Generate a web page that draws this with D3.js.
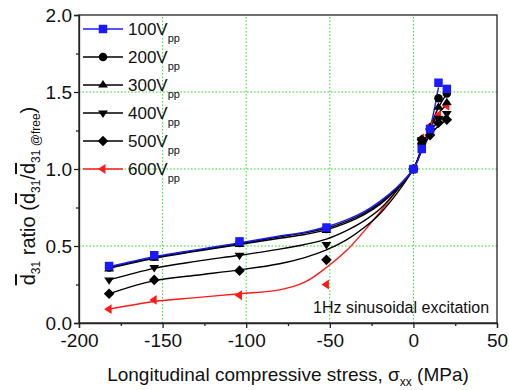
<!DOCTYPE html>
<html>
<head>
<meta charset="utf-8">
<script src="https://cdn.jsdelivr.net/npm/d3@7"></script>
<style>
  html, body { margin: 0; padding: 0; background: #fff; }
  svg { display: block; font-family: "Liberation Sans", Arial, sans-serif; }
  .grid line { stroke: #22dd22; stroke-width: 1; stroke-dasharray: 1.5, 2; }
  .axis path, .axis line { stroke: #222; stroke-width: 1.3; }
  .axis text { font-size: 19px; fill: #111; }
</style>
</head>
<body>
<div id="chart"></div>
<script>
// measured points
const stress = [-182, -155, -104, -52, 0, 5, 10, 15, 20];
const v100 = [0.37, 0.44, 0.53, 0.62, 1.0, 1.13, 1.26, 1.56, 1.52];
const v200 = [0.36, 0.43, 0.52, 0.61, 1.0, 1.16, 1.25, 1.46, 1.49];
const v300 = [0.35, 0.42, 0.51, 0.60, 1.0, 1.18, 1.27, 1.40, 1.43];
const v400 = [0.28, 0.36, 0.44, 0.51, 1.0, 1.19, 1.25, 1.33, 1.36];
const v500 = [0.19, 0.28, 0.34, 0.41, 1.0, 1.19, 1.22, 1.30, 1.32];
const v600 = [0.09, 0.15, 0.18, 0.25, 1.0, 1.20, 1.28, 1.35, 1.41];

// fitted curves
const fitX = [-182, -155, -130, -104, -80, -65, -52, -40, -30, -20, -10, 0, 5, 10, 15, 20];
const fit100 = [0.365, 0.43, 0.475, 0.52, 0.565, 0.59, 0.625, 0.67, 0.72, 0.79, 0.88, 1.0, 1.12, 1.27, 1.53, null];
const fit200 = [0.36, 0.425, 0.47, 0.515, 0.56, 0.585, 0.615, 0.66, 0.71, 0.78, 0.875, 1.0, 1.13, 1.27, 1.4, 1.49];
const fit300 = [0.355, 0.42, 0.465, 0.51, 0.55, 0.575, 0.605, 0.65, 0.70, 0.77, 0.87, 1.0, 1.13, 1.26, 1.36, 1.42];
const fit400 = [0.28, 0.355, 0.4, 0.44, 0.48, 0.51, 0.545, 0.6, 0.66, 0.74, 0.86, 1.0, 1.13, 1.24, 1.31, 1.35];
const fit500 = [0.19, 0.275, 0.31, 0.345, 0.385, 0.425, 0.475, 0.54, 0.615, 0.71, 0.84, 1.0, 1.12, 1.22, 1.28, 1.32];
const fit600 = [0.09, 0.14, 0.165, 0.19, 0.215, 0.265, 0.36, 0.47, 0.59, 0.72, 0.86, 1.0, 1.14, 1.27, 1.36, 1.42];

const seriesNames = ["100V", "200V", "300V", "400V", "500V", "600V"];
const seriesValues = [v100, v200, v300, v400, v500, v600];
const seriesFits = [fit100, fit200, fit300, fit400, fit500, fit600];
const seriesColors = ["#1a1aff", "#000", "#000", "#000", "#000", "#ff1a1a"];
const seriesMarkers = ["square", "circle", "up", "down", "diamond", "left"];

const xTicks = [-200, -150, -100, -50, 0, 50];
const yTicks = [0.0, 0.5, 1.0, 1.5, 2.0];

const width = 509, height = 390;
const margin = { left: 79, right: 12, top: 15, bottom: 67 };

const svg = d3.select("#chart").append("svg")
  .attr("width", width)
  .attr("height", height);

const x = d3.scaleLinear().domain([-200, 50]).range([margin.left, width - margin.right]);
const y = d3.scaleLinear().domain([0, 2]).range([height - margin.bottom, margin.top]);

// grid
const grid = svg.append("g").attr("class", "grid");
grid.selectAll(".gx").data([-150, -100, -50, 0]).enter().append("line")
  .attr("x1", d => x(d)).attr("x2", d => x(d))
  .attr("y1", y(0)).attr("y2", y(2));
grid.selectAll(".gy").data([0.5, 1.0, 1.5]).enter().append("line")
  .attr("x1", x(-200)).attr("x2", x(50))
  .attr("y1", d => y(d)).attr("y2", d => y(d));

// marker shapes
function markerPath(kind, s) {
  if (kind === "square") return d3.symbol(d3.symbolSquare, s * s)();
  if (kind === "circle") return d3.symbol(d3.symbolCircle, Math.PI * (s / 2) * (s / 2))();
  if (kind === "diamond") {
    const r = s * 0.62;
    return `M0,${-r}L${r},0L0,${r}L${-r},0Z`;
  }
  // triangles
  const r = s * 0.58;
  const h = r * 1.5;
  if (kind === "up") return `M0,${-r}L${r},${h - r}L${-r},${h - r}Z`;
  if (kind === "down") return `M0,${r}L${r},${r - h}L${-r},${r - h}Z`;
  return `M${-r},0L${h - r},${-r}L${h - r},${r}Z`;
}

const line = d3.line()
  .defined(d => d[1] !== null)
  .x(d => x(d[0]))
  .y(d => y(d[1]))
  .curve(d3.curveCatmullRom.alpha(0.5));

const plot = svg.append("g");

// draw from 600V back to 100V so the blue ends on top
for (let i = seriesNames.length - 1; i >= 0; i--) {
  const fitPts = fitX.map((fx, j) => [fx, seriesFits[i][j]]);
  plot.append("path")
    .datum(fitPts)
    .attr("fill", "none")
    .attr("stroke", seriesColors[i])
    .attr("stroke-width", 1.4)
    .attr("d", line);
}
for (let i = seriesNames.length - 1; i >= 0; i--) {
  const pts = stress.map((sx, j) => [sx, seriesValues[i][j]]);
  plot.selectAll(null).data(pts).enter().append("path")
    .attr("transform", d => `translate(${x(d[0])},${y(d[1])})`)
    .attr("d", markerPath(seriesMarkers[i], 8.5))
    .attr("fill", seriesColors[i]);
}

// frame
svg.append("rect")
  .attr("x", x(-200)).attr("y", y(2))
  .attr("width", x(50) - x(-200)).attr("height", y(0) - y(2))
  .attr("fill", "none").attr("stroke", "#222").attr("stroke-width", 1.3);

// axes
svg.append("g").attr("class", "axis")
  .attr("transform", `translate(0,${y(0)})`)
  .call(d3.axisBottom(x).tickValues(xTicks).tickSize(5).tickPadding(6).tickFormat(d => String(d)));
svg.append("g").attr("class", "axis")
  .attr("transform", `translate(0,${y(0)})`)
  .call(d3.axisBottom(x).tickValues([-175, -125, -75, -25, 25]).tickSize(3).tickFormat(""))
  .select(".domain").remove();

svg.append("g").attr("class", "axis")
  .attr("transform", `translate(${x(-200)},0)`)
  .call(d3.axisLeft(y).tickValues(yTicks).tickSize(5).tickPadding(2).tickFormat(d3.format(".1f")));
svg.append("g").attr("class", "axis")
  .attr("transform", `translate(${x(-200)},0)`)
  .call(d3.axisLeft(y).tickValues([0.25, 0.75, 1.25, 1.75]).tickSize(3).tickFormat(""))
  .select(".domain").remove();

// legend
const legend = svg.append("g");
seriesNames.forEach((name, i) => {
  const ly = 29 + i * 28;
  legend.append("line")
    .attr("x1", 83).attr("x2", 123).attr("y1", ly).attr("y2", ly)
    .attr("stroke", seriesColors[i]).attr("stroke-width", 1.4);
  legend.append("path")
    .attr("transform", `translate(103,${ly})`)
    .attr("d", markerPath(seriesMarkers[i], 8.5))
    .attr("fill", seriesColors[i]);
  const t = legend.append("text")
    .attr("x", 128).attr("y", ly + 6)
    .attr("font-size", 17).attr("fill", "#111");
  t.append("tspan").text(name);
  t.append("tspan").attr("dy", 7).attr("font-size", 11).text("pp");
});

// annotation
svg.append("text")
  .attr("x", 313).attr("y", 313)
  .attr("font-size", 16).attr("fill", "#111")
  .text("1Hz sinusoidal excitation");

// x title
const xt = svg.append("text")
  .attr("x", (x(-200) + x(50)) / 2).attr("y", 381)
  .attr("text-anchor", "middle")
  .attr("font-size", 19).attr("fill", "#111");
xt.append("tspan").text("Longitudinal compressive stress, σ");
xt.append("tspan").attr("dy", 5).attr("font-size", 12).text("xx");
xt.append("tspan").attr("dy", -5).text(" (MPa)");

// y title
const yt = svg.append("text")
  .attr("transform", `translate(35,${196}) rotate(-90)`)
  .attr("text-anchor", "middle")
  .attr("font-size", 20).attr("fill", "#111");
yt.append("tspan").style("text-decoration", "overline").text("d");
yt.append("tspan").attr("dy", 5).attr("font-size", 12).text("31");
yt.append("tspan").attr("dy", -5).text(" ratio (");
yt.append("tspan").style("text-decoration", "overline").text("d");
yt.append("tspan").attr("dy", 5).attr("font-size", 12).text("31");
yt.append("tspan").attr("dy", -5).text("/");
yt.append("tspan").style("text-decoration", "overline").text("d");
yt.append("tspan").attr("dy", 5).attr("font-size", 12).text("31 @free");
yt.append("tspan").attr("dy", -5).text(")");
</script>
</body>
</html>
